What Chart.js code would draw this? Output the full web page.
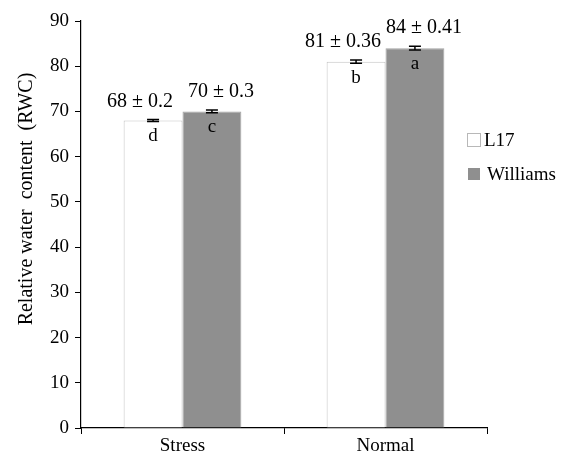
<!DOCTYPE html>
<html>
<head>
<meta charset="utf-8">
<script src="https://cdn.jsdelivr.net/npm/chart.js@4"></script>
<style>
  html, body { margin: 0; padding: 0; background: #fff; }
  #wrap { width: 576px; height: 458px; }
</style>
</head>
<body>
<div id="wrap"><canvas id="rwcChart" width="576" height="458"></canvas></div>
<script>
const categories = ['Stress', 'Normal'];
const seriesNames = ['L17', 'Williams'];
const l17Values = [68, 81];
const williamsValues = [70, 84];
const l17Errors = [0.2, 0.36];
const williamsErrors = [0.3, 0.41];
const l17Letters = ['d', 'b'];
const williamsLetters = ['c', 'a'];
const yTicks = [0, 10, 20, 30, 40, 50, 60, 70, 80, 90];
const yTitle = 'Relative water  content  (RWC)';

const fontFamily = '"Liberation Serif", "Times New Roman", serif';
const grey = '#8f8f8f';

// error bars, value labels and letters on top of the bars
const barExtras = {
  id: 'barExtras',
  afterDatasetsDraw(chart) {
    const ctx = chart.ctx;
    const y = chart.scales.y;
    chart.data.datasets.forEach((ds, di) => {
      const meta = chart.getDatasetMeta(di);
      const shift = di === 0 ? -13 : 9; // keep the labels of neighbour bars apart
      meta.data.forEach((bar, i) => {
        const v = ds.data[i];
        const err = ds.errors[i];
        const x = bar.x;
        const yHi = y.getPixelForValue(v + err);
        const yLo = y.getPixelForValue(v - err);
        ctx.save();
        ctx.strokeStyle = '#000';
        ctx.lineWidth = 1.5;
        ctx.beginPath();
        ctx.moveTo(x, yHi); ctx.lineTo(x, yLo);
        ctx.moveTo(x - 6, yHi); ctx.lineTo(x + 6, yHi);
        ctx.moveTo(x - 6, yLo); ctx.lineTo(x + 6, yLo);
        ctx.stroke();

        ctx.fillStyle = '#000';
        ctx.font = '20px ' + fontFamily;
        ctx.textAlign = 'center';
        ctx.textBaseline = 'alphabetic';
        ctx.fillText(v + ' \u00b1 ' + err, x + shift, yHi - 13);

        ctx.font = '19px ' + fontFamily;
        ctx.textBaseline = 'middle';
        ctx.fillText(ds.letters[i], x, y.getPixelForValue(v) + 16);
        ctx.restore();
      });
    });
  }
};

// y title and small legend inside the plot on the right
const sideLegend = {
  id: 'sideLegend',
  afterDraw(chart) {
    const ctx = chart.ctx;
    ctx.save();
    ctx.font = '20px ' + fontFamily;
    ctx.fillStyle = '#000';
    ctx.translate(27, 199);
    ctx.rotate(-Math.PI / 2);
    ctx.textAlign = 'center';
    ctx.textBaseline = 'middle';
    ctx.fillText(yTitle, 0, 0);
    ctx.restore();

    ctx.save();
    ctx.font = '19px ' + fontFamily;
    ctx.textBaseline = 'middle';
    ctx.textAlign = 'left';
    chart.data.datasets.forEach((ds, di) => {
      const top = 133 + di * 34;
      if (di === 0) {
        ctx.fillStyle = '#fff';
        ctx.fillRect(467.5, top + 0.5, 13, 13);
        ctx.strokeStyle = '#b8b8b8';
        ctx.lineWidth = 1;
        ctx.strokeRect(467.5, top + 0.5, 13, 13);
      } else {
        ctx.fillStyle = grey;
        ctx.fillRect(468, top + 1, 12, 12);
      }
      ctx.fillStyle = '#000';
      ctx.fillText(ds.label, di === 0 ? 484 : 487, top + 8);
    });
    ctx.restore();
  }
};

new Chart(document.getElementById('rwcChart'), {
  type: 'bar',
  data: {
    labels: categories,
    datasets: [
      {
        label: seriesNames[0],
        data: l17Values,
        errors: l17Errors,
        letters: l17Letters,
        backgroundColor: '#fff',
        borderColor: '#c4c4c4',
        borderWidth: 1,
        barPercentage: 1,
        categoryPercentage: 0.58
      },
      {
        label: seriesNames[1],
        data: williamsValues,
        errors: williamsErrors,
        letters: williamsLetters,
        backgroundColor: grey,
        borderColor: '#a4a4a4',
        borderWidth: 1,
        barPercentage: 1,
        categoryPercentage: 0.58
      }
    ]
  },
  options: {
    responsive: false,
    animation: false,
    devicePixelRatio: 1,
    layout: { padding: { top: 21, right: 89, left: 0, bottom: 0 } },
    plugins: {
      legend: { display: false },
      tooltip: { enabled: false }
    },
    scales: {
      x: {
        grid: {
          offset: true,
          drawOnChartArea: false,
          color: '#000',
          tickLength: 6
        },
        border: { color: '#000', width: 1.2 },
        ticks: {
          color: '#000',
          font: { family: fontFamily, size: 19 },
          padding: 1
        },
        afterFit: s => { s.height = 30; }
      },
      y: {
        min: 0,
        max: 90,
        afterBuildTicks: s => { s.ticks = yTicks.map(v => ({ value: v })); },
        grid: {
          drawOnChartArea: false,
          color: '#000',
          tickLength: 6
        },
        border: { color: '#000', width: 1.2 },
        ticks: {
          color: '#000',
          font: { family: fontFamily, size: 19 },
          padding: 6
        },
        afterFit: s => { s.width = 81; }
      }
    }
  },
  plugins: [barExtras, sideLegend]
});
</script>
</body>
</html>
